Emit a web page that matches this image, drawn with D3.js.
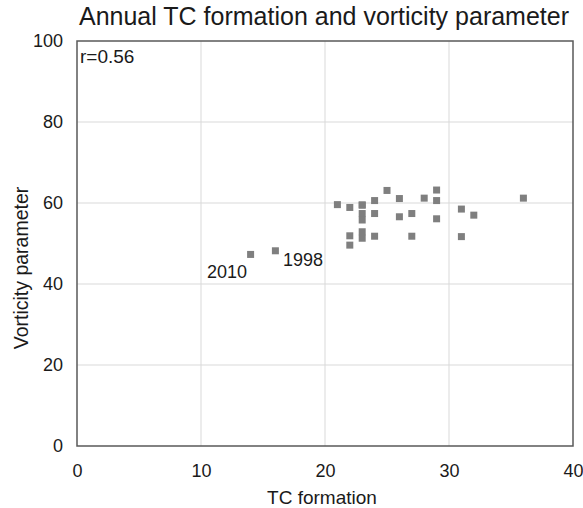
<!DOCTYPE html>
<html>
<head>
<meta charset="utf-8">
<script src="https://cdn.jsdelivr.net/npm/d3@7"></script>
<style>
	body{margin:0;background:#fff;}
	text{font-family:"Liberation Sans",Arial,sans-serif;fill:#1a1a1a;}
</style>
</head>
<body>
<svg id="chart" width="583" height="508"></svg>
<script>
// TC formation (count per year)
var tcFormation = [21,22,22,22,23,23,23,23,23,23,24,24,24,25,26,26,27,27,28,29,29,29,31,31,32,36,14,16];
// vorticity parameter
var vorticity = [59.6,58.9,51.9,49.6,59.5,57.4,55.8,52.9,51.3,59.5,60.6,57.4,51.8,63.1,61.1,56.6,57.4,51.8,61.2,63.2,60.6,56.1,58.5,51.7,57.0,61.2,47.3,48.2];
// labelled years: index into the arrays above
var labelYears = ["2010","1998"];
var labelIndex = [26,27];
var xTicks = [0,10,20,30,40];
var yTicks = [0,20,40,60,80,100];

var svg = d3.select("#chart");
var margin = {left:77, right:10, top:41, bottom:62};
var w = 583 - margin.left - margin.right;
var h = 508 - margin.top - margin.bottom;

var x = d3.scaleLinear().domain([0,40]).range([margin.left, margin.left+w]);
var y = d3.scaleLinear().domain([0,100]).range([margin.top+h, margin.top]);

//grid
svg.append("g").selectAll("line.vg")
	.data(xTicks.slice(1,-1)).enter()
	.append("line")
		.attr("x1", function(d){return x(d);})
		.attr("x2", function(d){return x(d);})
		.attr("y1", y(0)).attr("y2", y(100))
		.attr("stroke", "#d9d9d9").attr("stroke-width", 1);
svg.append("g").selectAll("line.hg")
	.data(yTicks.slice(1,-1)).enter()
	.append("line")
		.attr("y1", function(d){return y(d);})
		.attr("y2", function(d){return y(d);})
		.attr("x1", x(0)).attr("x2", x(40))
		.attr("stroke", "#d9d9d9").attr("stroke-width", 1);

//frame
svg.append("rect")
	.attr("x", x(0)).attr("y", y(100))
	.attr("width", x(40)-x(0)).attr("height", y(0)-y(100))
	.attr("fill", "none").attr("stroke", "#595959").attr("stroke-width", 1.5);

//axes
var xAxis = svg.append("g")
	.attr("transform", "translate(0," + y(0) + ")")
	.call(d3.axisBottom(x).tickValues(xTicks).tickSize(0).tickPadding(18));
var yAxis = svg.append("g")
	.attr("transform", "translate(" + x(0) + ",0)")
	.call(d3.axisLeft(y).tickValues(yTicks).tickSize(0).tickPadding(14));
[xAxis, yAxis].forEach(function(a){
	a.select(".domain").remove();
	a.selectAll("text").style("font-size","18px").attr("fill","#1a1a1a")
		.style("font-family","'Liberation Sans',Arial,sans-serif");
});

//points
var pts = tcFormation.map(function(d,i){return {x:d, y:vorticity[i]};});
var sz = 7;
svg.append("g").selectAll("rect.pt")
	.data(pts).enter()
	.append("rect")
		.attr("x", function(d){return x(d.x) - sz/2;})
		.attr("y", function(d){return y(d.y) - sz/2;})
		.attr("width", sz).attr("height", sz)
		.attr("fill", "#7f7f7f");

//year labels
svg.append("text")
	.attr("x", x(pts[labelIndex[0]].x) - 3.5)
	.attr("y", y(pts[labelIndex[0]].y) + 23.5)
	.attr("text-anchor", "end")
	.style("font-size", "18px")
	.text(labelYears[0]);
svg.append("text")
	.attr("x", x(pts[labelIndex[1]].x) + 7.5)
	.attr("y", y(pts[labelIndex[1]].y) + 15)
	.style("font-size", "18px")
	.text(labelYears[1]);

//r label
svg.append("text")
	.attr("x", x(0) + 3).attr("y", y(100) + 22)
	.style("font-size", "19px")
	.text("r=0.56");

//titles
svg.append("text")
	.attr("x", 324).attr("y", 25)
	.attr("text-anchor", "middle")
	.style("font-size", "25px")
	.text("Annual TC formation and vorticity parameter");
svg.append("text")
	.attr("x", 322).attr("y", 504)
	.attr("text-anchor", "middle")
	.style("font-size", "19px")
	.text("TC formation");
svg.append("text")
	.attr("transform", "translate(28,268) rotate(-90)")
	.attr("text-anchor", "middle")
	.style("font-size", "19.5px")
	.text("Vorticity parameter");
</script>
</body>
</html>
